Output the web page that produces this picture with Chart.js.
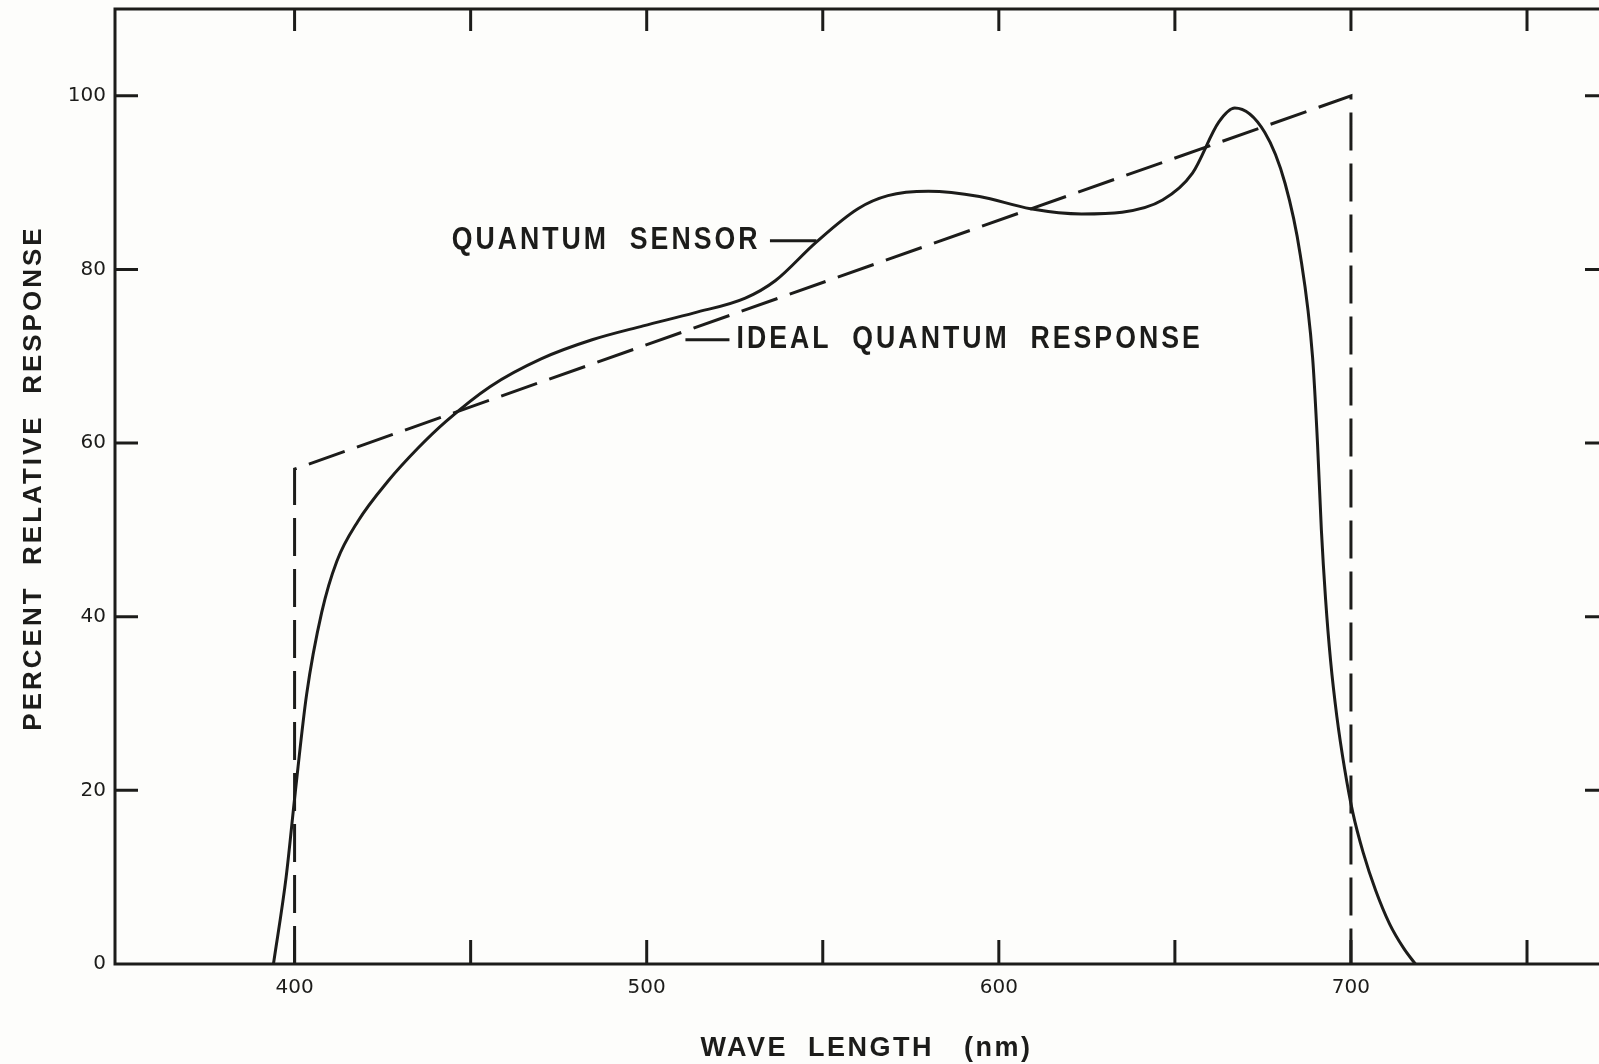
<!DOCTYPE html>
<html>
<head>
<meta charset="utf-8">
<title>Quantum sensor response</title>
<script src="https://cdn.jsdelivr.net/npm/chart.js@4"></script>
<style>
  html, body { margin: 0; padding: 0; background: #fdfdfb; overflow: hidden; }
  #wrap { width: 1640px; height: 1064px; }
</style>
</head>
<body>
<div id="wrap"><canvas id="responseChart"></canvas></div>
<script>
// measured response of the quantum sensor
const sensorNm = [394, 397.6, 400.2, 403.4, 407.7, 412, 418, 426.5, 435, 443, 455.5, 470, 484.5, 499, 513.5, 528,
  536.5, 548, 560, 568.5, 580, 594.5, 609, 623.5, 635, 646.5, 655, 662.5, 667, 675.5, 681.3, 685.6, 689.1,
  690.5, 691.6, 692.8, 694.2, 696, 698.2, 700.5, 703.5, 707, 711, 715, 718.3];
const sensorPct = [0, 10, 19.8, 31, 40.5, 46.4, 51, 55.6, 59.4, 62.5, 66.5, 69.7, 71.9, 73.5, 75, 76.7,
  78.7, 83.1, 87, 88.5, 89, 88.4, 87, 86.4, 86.6, 88, 91.1, 97, 98.6, 95.8, 89.9, 81.7, 69.9,
  60, 50, 42, 35, 28.5, 22.5, 17.5, 12.8, 8.5, 4.6, 1.8, 0];

// ideal quantum response: ramp between 400 and 700 nm
const idealNm = [400, 400, 700, 700];
const idealPct = [0, 57, 100, 0];

const xTicks = [400, 450, 500, 550, 600, 650, 700, 750];
const xLabels = [400, 500, 600, 700];
const yTicks = [0, 20, 40, 60, 80, 100];

const ink = '#1c1c1a';
const tickFont = { family: '"DejaVu Sans", sans-serif', size: 20 };
const letterFont = '"Liberation Sans", Arial, sans-serif';

const toPoints = (xs, ys) => xs.map((v, i) => ({ x: v, y: ys[i] }));

// lettering: letter spaced, optionally squeezed horizontally
function letterText(ctx, text, x, y, opts) {
  ctx.save();
  ctx.translate(x, y);
  ctx.scale(opts.squeeze || 1, 1);
  ctx.font = opts.font;
  ctx.letterSpacing = opts.spacing + 'px';
  ctx.textAlign = opts.align;
  ctx.textBaseline = 'middle';
  ctx.fillText(text, 0, 0);
  ctx.restore();
}

// box, inward tick marks, labels on the curves and axis titles
const framePlugin = {
  id: 'frame',
  afterDraw(chart) {
    const { ctx, chartArea: a, scales: { x, y } } = chart;
    ctx.save();
    ctx.strokeStyle = ink;
    ctx.fillStyle = ink;
    ctx.lineWidth = 3;
    ctx.strokeRect(a.left, a.top, a.right - a.left, a.bottom - a.top);

    ctx.beginPath();
    xTicks.forEach(v => {
      const px = x.getPixelForValue(v);
      ctx.moveTo(px, a.bottom); ctx.lineTo(px, a.bottom - 24);
      ctx.moveTo(px, a.top); ctx.lineTo(px, a.top + 22);
    });
    yTicks.slice(1).forEach(v => {
      const py = y.getPixelForValue(v);
      ctx.moveTo(a.left, py); ctx.lineTo(a.left + 23, py);
      ctx.moveTo(a.right, py); ctx.lineTo(a.right - 23, py);
    });
    // leader lines
    const ly1 = y.getPixelForValue(83.3);
    ctx.moveTo(x.getPixelForValue(535), ly1); ctx.lineTo(x.getPixelForValue(548.2), ly1);
    const ly2 = y.getPixelForValue(71.9);
    ctx.moveTo(x.getPixelForValue(511), ly2); ctx.lineTo(x.getPixelForValue(523.5), ly2);
    ctx.stroke();

    const bold = 'bold 31px ' + letterFont;
    letterText(ctx, 'QUANTUM  SENSOR', x.getPixelForValue(532.3), ly1, { font: bold, spacing: 3.5, squeeze: 0.86, align: 'right' });
    letterText(ctx, 'IDEAL  QUANTUM  RESPONSE', x.getPixelForValue(525.5), ly2, { font: bold, spacing: 3.5, squeeze: 0.86, align: 'left' });

    letterText(ctx, 'WAVE  LENGTH   (nm)', (a.left + a.right) / 2 + 5, 1049,
      { font: 'bold 27px ' + letterFont, spacing: 2.5, align: 'center' });

    ctx.translate(34, 478);
    ctx.rotate(-Math.PI / 2);
    letterText(ctx, 'PERCENT  RELATIVE  RESPONSE', 0, 0, { font: '600 26px ' + letterFont, spacing: 3, align: 'center' });
    ctx.restore();
  }
};

new Chart(document.getElementById('responseChart'), {
  type: 'line',
  data: {
    datasets: [{
      label: 'Quantum sensor',
      data: toPoints(sensorNm, sensorPct),
      borderColor: ink,
      borderWidth: 3,
      pointRadius: 0,
      cubicInterpolationMode: 'monotone',
      fill: false
    }, {
      label: 'Ideal quantum response',
      data: toPoints(idealNm, idealPct),
      borderColor: ink,
      borderWidth: 3,
      borderDash: [38, 13],
      pointRadius: 0,
      tension: 0,
      fill: false
    }]
  },
  options: {
    responsive: true,
    maintainAspectRatio: false,
    animation: false,
    layout: { padding: { top: 9, right: 32, left: 0, bottom: 0 } },
    plugins: { legend: { display: false }, tooltip: { enabled: false } },
    scales: {
      x: {
        type: 'linear',
        min: 349,
        max: 773,
        afterBuildTicks: s => { s.ticks = xTicks.map(value => ({ value })); },
        afterFit: s => { s.height = 100; s.paddingLeft = 0; s.paddingRight = 0; },
        ticks: {
          autoSkip: false,
          maxRotation: 0,
          padding: 12,
          color: ink,
          font: tickFont,
          callback: v => xLabels.includes(v) ? String(v) : ''
        },
        grid: { display: false, drawTicks: false },
        border: { display: false }
      },
      y: {
        min: 0,
        max: 110,
        afterBuildTicks: s => { s.ticks = yTicks.map(value => ({ value })); },
        afterFit: s => { s.width = 115; s.paddingTop = 0; s.paddingBottom = 0; },
        ticks: { padding: 9, color: ink, font: tickFont },
        grid: { display: false, drawTicks: false },
        border: { display: false }
      }
    }
  },
  plugins: [framePlugin]
});
</script>
</body>
</html>
